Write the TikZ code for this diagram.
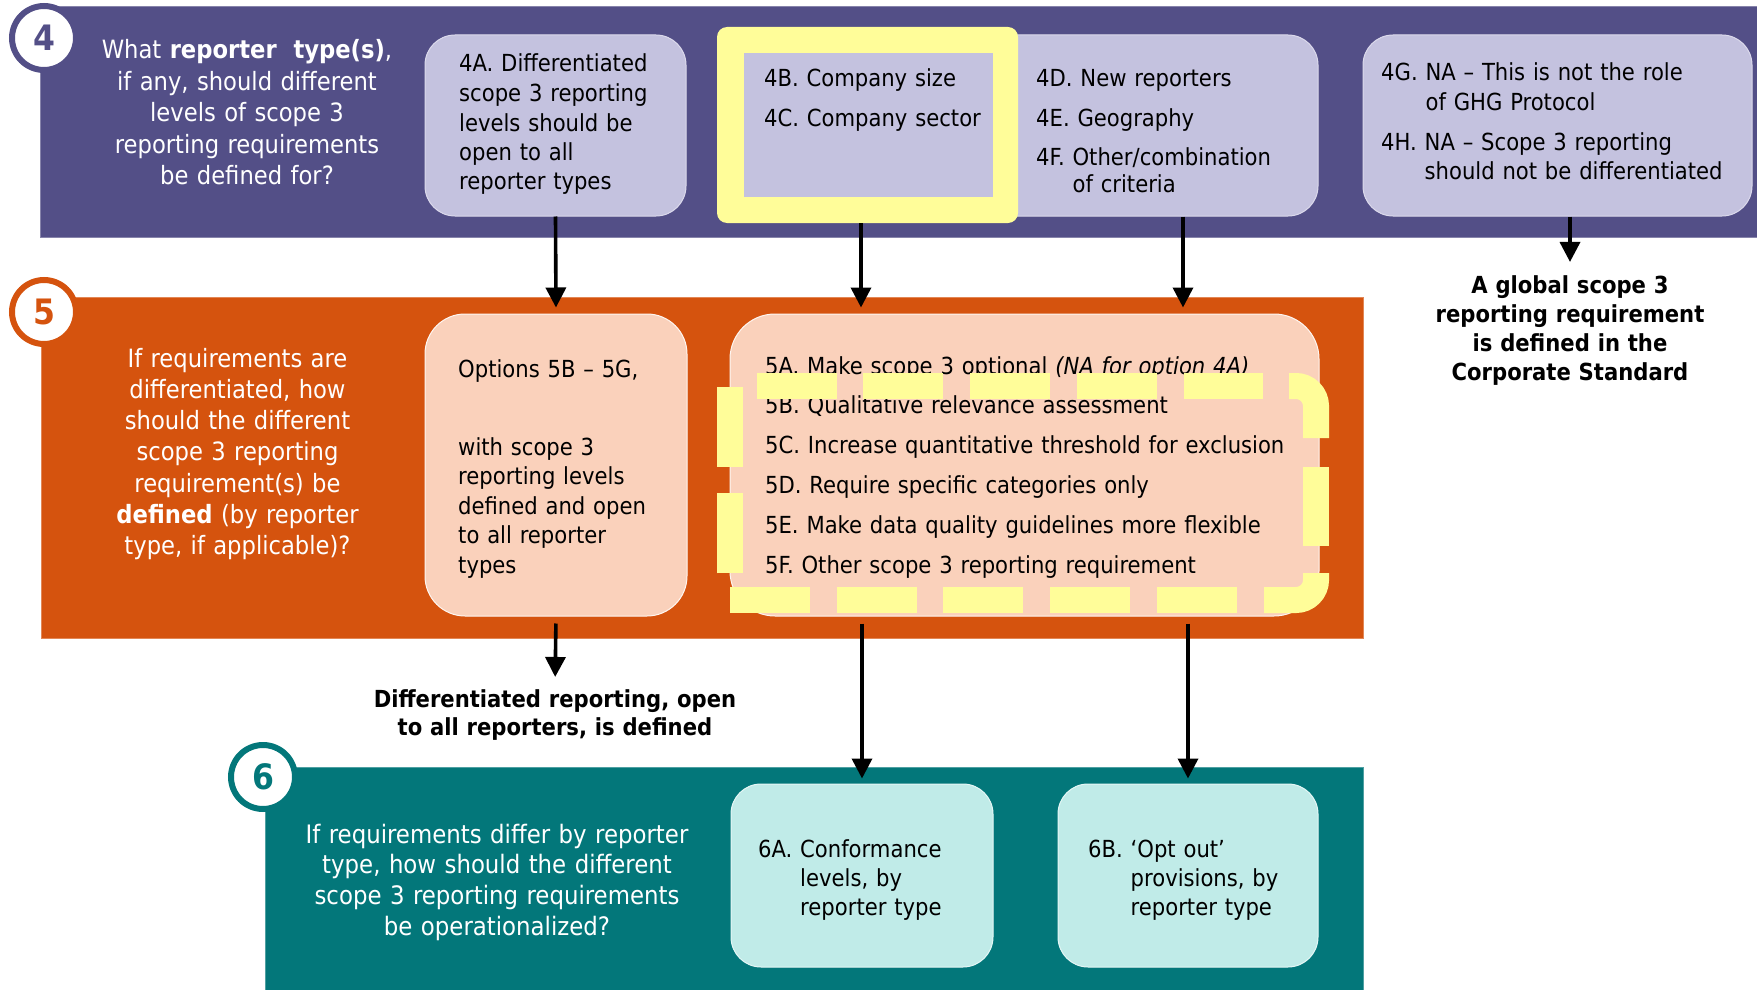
\documentclass[tikz,border=0pt]{standalone}
\usepackage{fontspec}
\setmainfont{DejaVu Sans Condensed}
\usetikzlibrary{arrows.meta}
\definecolor{purpleband}{RGB}{83,79,135}
\definecolor{lavender}{RGB}{196,194,223}
\definecolor{orangeband}{RGB}{213,83,14}
\definecolor{peach}{RGB}{250,209,187}
\definecolor{tealband}{RGB}{3,119,122}
\definecolor{lightteal}{RGB}{192,235,232}
\definecolor{hiyellow}{RGB}{255,253,153}
\begin{document}
\begin{tikzpicture}[x=1pt,y=-1pt,
  box/.style={draw=white, line width=1pt, inner sep=0pt, rounded corners=30pt},
  lavbox/.style={box, fill=lavender, draw=lavender!60!white},
  peachbox/.style={box, fill=peach, draw=white!80!peach},
  tealbox/.style={box, fill=lightteal, draw=white!60!lightteal},
  num/.style={circle, fill=white, line width=6pt, minimum size=64pt, inner sep=0pt,
    font=\fontsize{35}{35}\selectfont\bfseries},
  qtext/.style={anchor=base, inner sep=0pt, align=center, text=white},
  btext/.style={anchor=base west, inner sep=0pt, align=left, text=black},
  lbl/.style={anchor=base, inner sep=0pt, align=center, text=black,
    font=\fontsize{23.5}{29}\selectfont\bfseries},
  arr/.style={-{Triangle[length=20pt,width=20pt]}, line width=3.6pt, black},
  yline/.style={draw=hiyellow, line width=26pt},
  ydash/.style={yline, dash pattern=on 80pt off 26.7pt}
]
\useasboundingbox (0,0) rectangle (1757,990);
% bands
\path[fill=purpleband, draw=purpleband!70!white, line width=1pt] (40,7) rectangle (1757,237);
\path[fill=orangeband, draw=orangeband!70!white, line width=1pt] (41,297) rectangle (1363,638);
\path[fill=tealband, draw=tealband!70!white, line width=1pt] (265,767) rectangle (1363,990);
% circles
\node[num, draw=purpleband, text=purpleband] (c4) at (44,38) {4};
\node[num, draw=orangeband, text=orangeband] (c5) at (44,312) {5};
\node[num, draw=tealband, text=tealband] (c6) at (263,777) {6};
% questions
\node[qtext, text width=330pt, font=\fontsize{25.2}{31.5}\selectfont] (q4) at (247,59)
  {What \textbf{reporter\ \ type(s)},\\if any, should different\\levels of scope 3\\reporting requirements\\be defined for?};
\node[qtext, text width=330pt, font=\fontsize{25.2}{31.3}\selectfont] (q5) at (237.5,367)
  {If requirements are\\differentiated, how\\should the different\\scope 3 reporting\\requirement(s) be\\\textbf{defined} (by reporter\\type, if applicable)?};
\node[qtext, text width=440pt, font=\fontsize{25.4}{30.7}\selectfont] (q6) at (497,843)
  {If requirements differ by reporter\\type, how should the different\\scope 3 reporting requirements\\be operationalized?};
% band 4 boxes
\node[lavbox, minimum width=261pt, minimum height=181pt] (b4A) at (555.5,125.5) {};
\node[lavbox, minimum width=588pt, minimum height=181pt] (b4D) at (1024,125.5) {};
\node[fill=hiyellow, rounded corners=10pt, inner sep=0pt, minimum width=301pt, minimum height=196pt] (yel) at (867.5,125) {};
\node[fill=lavender, inner sep=0pt, minimum width=249pt, minimum height=144pt] (in4B) at (868.5,125) {};
\node[lavbox, minimum width=389pt, minimum height=181pt] (b4G) at (1557.5,125.5) {};
\node[btext, text width=230pt, font=\fontsize{23.5}{29.5}\selectfont] (t4A) at (459,72)
  {4A. Differentiated\\scope 3 reporting\\levels should be\\open to all\\reporter types};
\node[btext, text width=230pt, font=\fontsize{23.5}{40}\selectfont] (t4B) at (764,86)
  {4B. Company size\\4C. Company sector};
\node[btext, text width=280pt, font=\fontsize{23.5}{28}\selectfont] (t4D) at (1036,86)
  {4D. New reporters\\[12pt]4E. Geography\\[11pt]4F. Other/combination\\\phantom{4F.\ }of criteria};
\node[btext, text width=380pt, font=\fontsize{23.5}{29.5}\selectfont] (t4G) at (1381,81)
  {4G. NA – This is not the role\\\phantom{4G.\ }of GHG Protocol\\[10.5pt]4H. NA – Scope 3 reporting\\\phantom{4H.\ }should not be differentiated};
\node[lbl, text width=380pt] (glob) at (1570,293)
  {A global scope 3\\reporting requirement\\is defined in the\\Corporate Standard};
% band 5 boxes
\node[peachbox, rounded corners=40pt, minimum width=262pt, minimum height=302pt] (b5L) at (556,465) {};
\node[peachbox, rounded corners=45pt, minimum width=589pt, minimum height=302pt] (b5R) at (1024.5,465) {};
\node[btext, text width=240pt, font=\fontsize{23.5}{29.5}\selectfont] (t5L) at (458,377)
  {Options 5B – 5G,\\[48.5pt]with scope 3\\reporting levels\\defined and open\\to all reporter\\types};
\node[btext, text width=560pt, font=\fontsize{23.5}{39.8}\selectfont] (t5R) at (765,374)
  {5A. Make scope 3 optional \textit{(NA for option 4A)}\\5B. Qualitative relevance assessment\\5C. Increase quantitative threshold for exclusion\\5D. Require specific categories only\\5E. Make data quality guidelines more flexible\\5F. Other scope 3 reporting requirement};
% yellow dashed highlight
\draw[ydash, dash phase=80pt] (730,386) -- (1263,386);
\draw[yline] (1289,386) -- (1296,386) arc[start angle=-90,end angle=0,radius=20] -- (1316,438);
\draw[yline] (1316,467) -- (1316,546);
\draw[yline] (1316,573) -- (1316,580) arc[start angle=0,end angle=90,radius=20] -- (1264,600);
\draw[ydash] (730,600) -- (1237,600);
\draw[ydash, dash phase=80pt] (730,600) -- (730,386);
\node[lbl, text width=440pt, font=\fontsize{23.5}{28.5}\selectfont\bfseries] (diff) at (555,707)
  {Differentiated reporting, open\\to all reporters, is defined};
% band 6 boxes
\node[tealbox, minimum width=262pt, minimum height=183pt] (b6A) at (862,875.5) {};
\node[tealbox, minimum width=260pt, minimum height=183pt] (b6B) at (1188,875.5) {};
\node[btext, text width=230pt, font=\fontsize{23.5}{29}\selectfont] (t6A) at (758,857)
  {6A. Conformance\\\phantom{6A.\ }levels, by\\\phantom{6A.\ }reporter type};
\node[btext, text width=230pt, font=\fontsize{23.5}{29}\selectfont] (t6B) at (1088,857)
  {6B. ‘Opt out’\\\phantom{6B.\ }provisions, by\\\phantom{6B.\ }reporter type};
% arrows
\coordinate (x2) at (861,0);
\coordinate (x3) at (1183,0);
\draw[arr, shorten >=6pt] (b4A.south) -- (b5L.north);
\draw[arr, shorten >=6pt] (yel.south -| x2) -- (b5R.north -| x2);
\draw[arr, shorten >=6pt] (b4D.south -| x3) -- (b5R.north -| x3);
\draw[arr, shorten >=13pt] (b4G.south -| glob.north) -- (glob.north);
\draw[arr, shorten <=7pt, shorten >=12pt] (b5L.south) -- (diff.north);
\draw[arr, shorten <=7pt, shorten >=5pt] (b5R.south -| b6A.north) -- (b6A.north);
\draw[arr, shorten <=7pt, shorten >=5pt] (b5R.south -| b6B.north) -- (b6B.north);
\end{tikzpicture}
\end{document}
